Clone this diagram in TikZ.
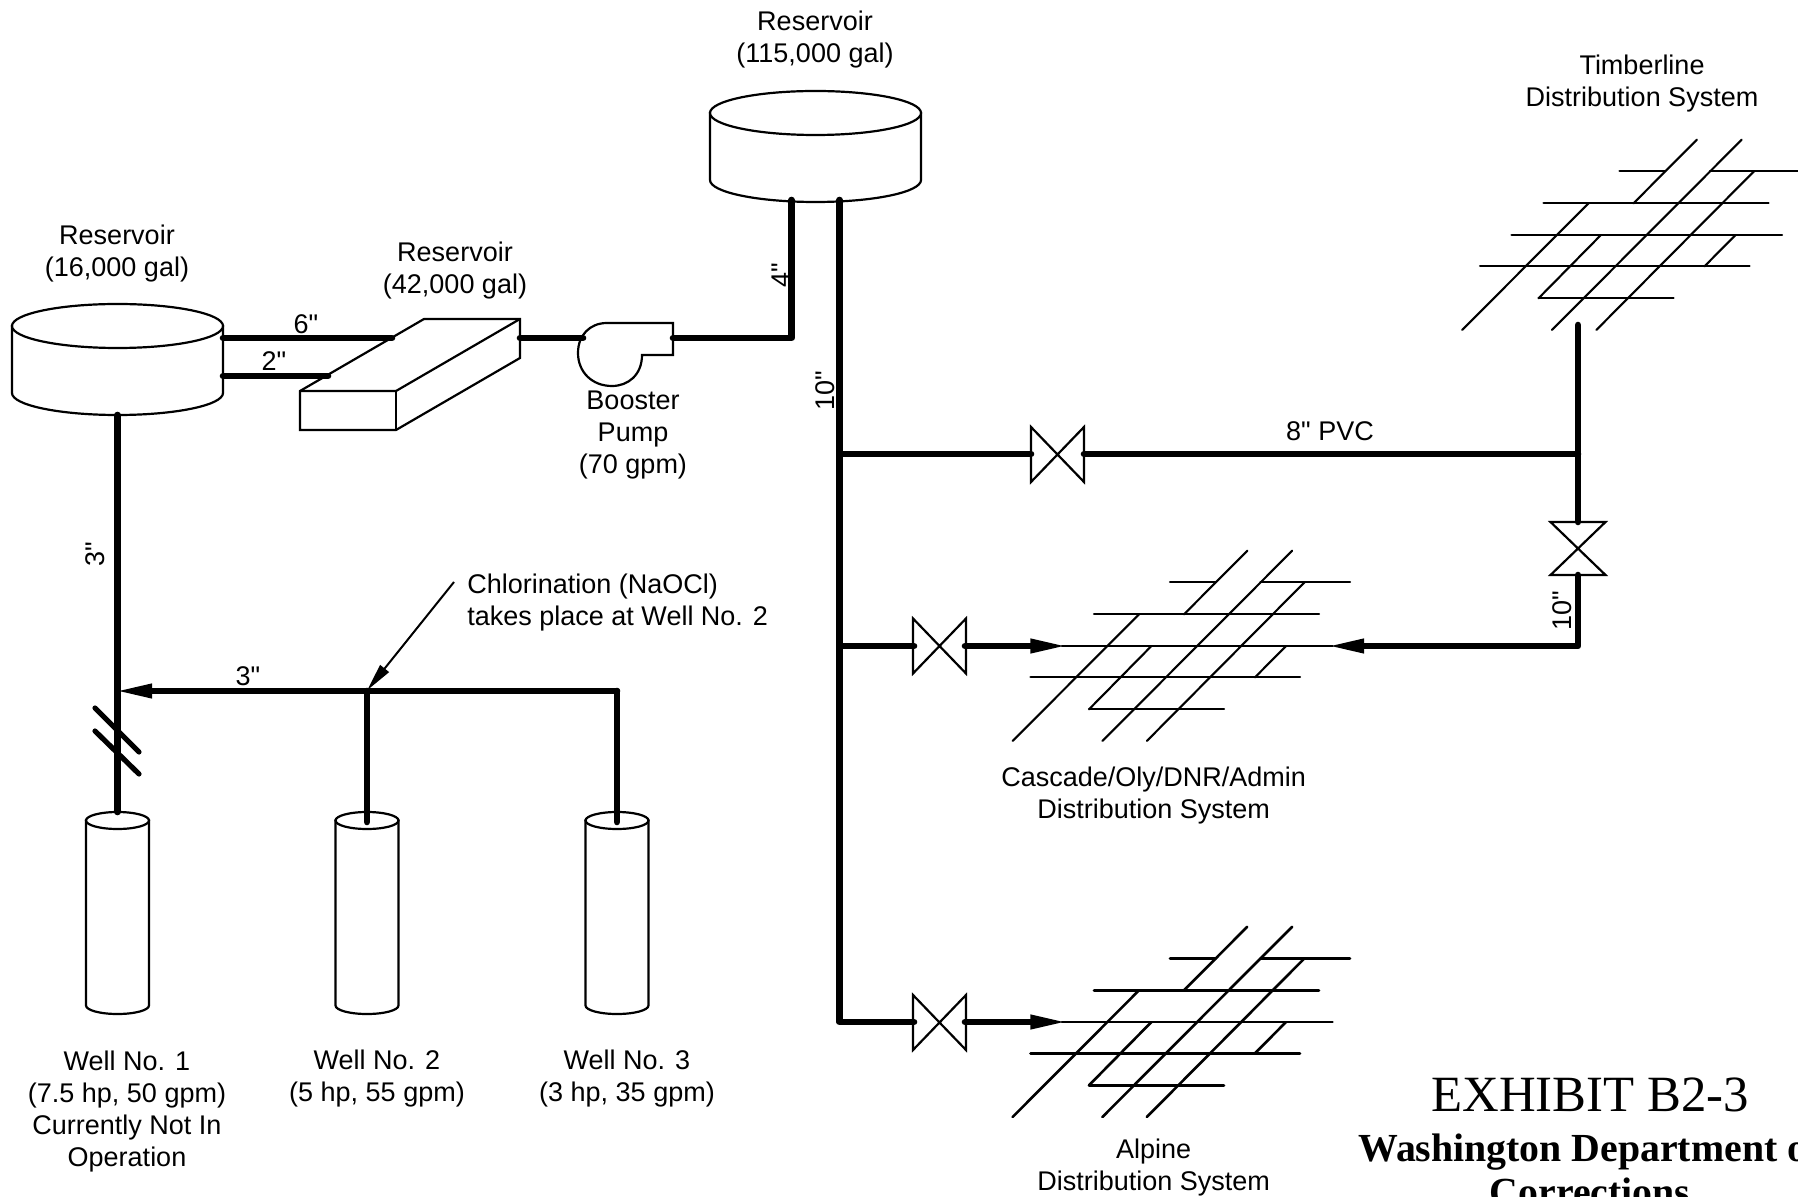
\documentclass[tikz,border=0pt]{standalone}
\usepackage{fontspec}
\newfontfamily\sansx{Liberation Sans}
\newfontfamily\serifx{Liberation Serif}
\usetikzlibrary{arrows.meta}
\tikzset{
  pipe/.style={line width=3.3pt,line cap=round,line join=round},
  arrowpipe/.style={pipe,shorten >=-3.2pt,-{Triangle[length=19pt,width=6.5pt]}},
  thin shape/.style={line width=1.1pt,line join=miter,fill=white},
  lbl/.style={font=\sansx\fontsize{13.5}{16}\selectfont,align=center,inner sep=0pt},
  breakmark/.style={line width=2.6pt,line cap=round},
}
\newcommand{\tankshape}[5]{% cx top rx ry height
  \draw[thin shape] (#1-#3,#2+#4) -- (#1-#3,#2+#4+#5) arc[start angle=180,end angle=0,x radius=#3,y radius=#4] -- (#1+#3,#2+#4) -- cycle;
  \draw[thin shape] (#1,#2+#4) ellipse[x radius=#3,y radius=#4];
}
\newcommand{\valveH}[2]{\draw[thin shape] (#1-26.5,#2-27.5) -- (#1-26.5,#2+27.5) -- (#1+26.5,#2-27.5) -- (#1+26.5,#2+27.5) -- cycle;}
\newcommand{\valveV}[2]{\draw[thin shape] (#1-27.5,#2-26.5) -- (#1+27.5,#2-26.5) -- (#1-27.5,#2+26.5) -- (#1+27.5,#2+26.5) -- cycle;}
\newcommand{\gridnet}[3]{% dx dy, width
  \begin{scope}[shift={(#1,#2)},line width=#3,line cap=round]
    \draw (1170,582.3) -- (1215.7,582.3);
    \draw (1260.4,582.3) -- (1350,582.3);
    \draw (1094,614.3) -- (1319,614.3);
    \draw (1062,646) -- (1332.5,646);
    \draw (1030.5,677.3) -- (1300,677.3);
    \draw (1089,709.3) -- (1224,709.3);
    \draw (1012.6,741) -- (1139,614.3);
    \draw (1089,709.3) -- (1151.4,646);
    \draw (1102.4,741) -- (1292.2,550.7);
    \draw (1146.8,741) -- (1304.5,582.3);
    \draw (1184,614.3) -- (1247.3,550.7);
    \draw (1255,677.3) -- (1286,646);
  \end{scope}
}
\begin{document}
\begin{tikzpicture}[x=0.5pt,y=-0.5pt]
\useasboundingbox (0,0) rectangle (1798,1197);
\clip (0,0) rectangle (1798,1197);
\fill[white] (0,0) rectangle (1798,1197);

% named pipe points
\coordinate (tankL-r6) at (223,338);
\coordinate (tankL-r2) at (223,376);
\coordinate (tankL-b) at (117.5,415);
\coordinate (box-l6) at (392,338);
\coordinate (box-l2) at (328,376);
\coordinate (box-r) at (520,338);
\coordinate (pump-l) at (583,338);
\coordinate (pump-r) at (673,338);
\coordinate (bend4) at (791.5,338);
\coordinate (tankT-4) at (791.5,200);
\coordinate (tankT-10) at (839.5,200);
\coordinate (main-a) at (839.5,454);
\coordinate (main-b) at (839.5,646);
\coordinate (main-c) at (839.5,1022);
\coordinate (va-l) at (1031,454);
\coordinate (va-r) at (1084,454);
\coordinate (tee) at (1578,454);
\coordinate (timber) at (1578,325);
\coordinate (vd-t) at (1578,522);
\coordinate (vd-b) at (1578,575);
\coordinate (corner) at (1578,646);
\coordinate (casc-r) at (1332.5,646);
\coordinate (vb-l) at (914,646);
\coordinate (vb-r) at (965,646);
\coordinate (casc-l) at (1062,646);
\coordinate (vc-l) at (914,1022);
\coordinate (vc-r) at (965,1022);
\coordinate (alp-l) at (1062,1022);
\coordinate (well1) at (117.5,812);
\coordinate (well2) at (367,822);
\coordinate (well3) at (617,822);
\coordinate (hdr-l) at (120.5,691);
\coordinate (hdr-m) at (367,691);
\coordinate (hdr-r) at (617,691);
\coordinate (chlor) at (454,582);
\coordinate (chlor-tip) at (369,688);
\coordinate (bk1a) at (95,708);
\coordinate (bk1b) at (139,752);
\coordinate (bk2a) at (95,731);
\coordinate (bk2b) at (139,774);

% distribution grids
\gridnet{449.5}{-411}{1.05pt}
\gridnet{0}{0}{1.05pt}
\gridnet{0}{376}{1.3pt}

% tanks
\tankshape{117.5}{304}{105.5}{22}{67}
\tankshape{815.5}{91}{105.5}{22}{67}
\tankshape{117.5}{812}{31.5}{8.5}{185}
\tankshape{367}{812}{31.5}{8.5}{185}
\tankshape{617}{812}{31.5}{8.5}{185}

% box reservoir
\draw[thin shape] (300,391) -- (424,319) -- (520,319) -- (520,358) -- (396,430) -- (300,430) -- cycle;
\draw[line width=1.1pt] (300,391) -- (396,391) -- (520,319);
\draw[line width=1.1pt] (396,391) -- (396,430);

% pump
\draw[thin shape] (607,323) -- (673,323) -- (673,355) -- (642,355)
  .. controls (642,375) and (628,386) .. (612,386)
  .. controls (592,386) and (578,372) .. (578,353)
  .. controls (578,335) and (590,323) .. (607,323) -- cycle;

% pipes
\draw[pipe] (tankL-r6) -- (box-l6);
\draw[pipe] (tankL-r2) -- (box-l2);
\draw[pipe] (box-r) -- (pump-l);
\draw[pipe] (pump-r) -- (bend4) -- (tankT-4);
\draw[pipe] (tankT-10) -- (main-c) -- (vc-l);
\draw[pipe] (main-a) -- (va-l);
\draw[pipe] (va-r) -- (tee);
\draw[pipe] (timber) -- (tee) -- (vd-t);
\draw[arrowpipe] (vd-b) -- (corner) -- (casc-r);
\draw[pipe] (main-b) -- (vb-l);
\draw[arrowpipe] (vb-r) -- (casc-l);
\draw[arrowpipe] (vc-r) -- (alp-l);
\draw[pipe] (tankL-b) -- (well1);
\draw[arrowpipe] (hdr-r) -- (hdr-l);
\draw[pipe] (hdr-r) -- (well3);
\draw[pipe] (hdr-m) -- (well2);
\draw[breakmark] (bk1a) -- (bk1b);
\draw[breakmark] (bk2a) -- (bk2b);
\draw[line width=1pt,shorten >=-1.5pt,-{Triangle[length=14pt,width=5.5pt]}] (chlor) -- (chlor-tip);

% valves
\valveH{1057.5}{454.5}
\valveH{939.5}{646}
\valveH{939.5}{1022.5}
\valveV{1578}{548.5}
\draw[pipe] (va-l) -- +(-1,0);
\draw[pipe] (va-r) -- +(1,0);
\draw[pipe] (vd-t) -- +(0,-1);
\draw[pipe] (vd-b) -- +(0,1);
\draw[pipe] (vb-l) -- +(-1,0);
\draw[pipe] (vb-r) -- +(1,0);
\draw[pipe] (vc-l) -- +(-1,0);
\draw[pipe] (vc-r) -- +(1,0);

% labels
\node[lbl] (t1) at (117,254) {Reservoir\\(16,000 gal)};
\node[lbl] (t2) at (455,271) {Reservoir\\(42,000 gal)};
\node[lbl] (t3) at (815,40) {Reservoir\\(115,000 gal)};
\node[lbl] (t4) at (1642,84) {Timberline\\Distribution System};
\node[lbl] (t5) at (633,435) {Booster\\Pump\\(70 gpm)};
\node[lbl] (t6) at (306,324) {6"};
\node[lbl] (t7) at (274,361) {2"};
\node[lbl,rotate=90] (t8) at (781,275) {4"};
\node[lbl,rotate=90] (t9) at (825.6,391) {10"};
\node[lbl] (t10) at (1330,431) {8" PVC};
\node[lbl,rotate=90] (t11) at (1562,611) {10"};
\node[lbl,rotate=90] (t12) at (95,554) {3"};
\node[lbl] (t13) at (248,676.5) {3"};
\node[lbl,align=left,anchor=west] (t14) at (467,603) {Chlorination (NaOCl)\\takes place at Well No. 2};
\node[lbl] (t15) at (1153.6,796) {Cascade/Oly/DNR/Admin\\Distribution System};
\node[lbl] (t16) at (1153.6,1168) {Alpine\\Distribution System};
\node[lbl] (t17) at (127,1112) {Well No. 1\\(7.5 hp, 50 gpm)\\Currently Not In\\Operation};
\node[lbl] (t18) at (377,1079) {Well No. 2\\(5 hp, 55 gpm)};
\node[lbl] (t19) at (627,1079) {Well No. 3\\(3 hp, 35 gpm)};
\node[inner sep=0pt,font=\serifx\fontsize{25.4}{28}\selectfont] (t20) at (1590,1095) {EXHIBIT B2-3};
\node[inner sep=0pt,anchor=west,font=\serifx\bfseries\fontsize{19.9}{22}\selectfont] (t21) at (1358,1151.5) {Washington Department of};
\node[inner sep=0pt,font=\serifx\bfseries\fontsize{19.9}{22}\selectfont] (t22) at (1590,1192) {Corrections};
\end{tikzpicture}
\end{document}
